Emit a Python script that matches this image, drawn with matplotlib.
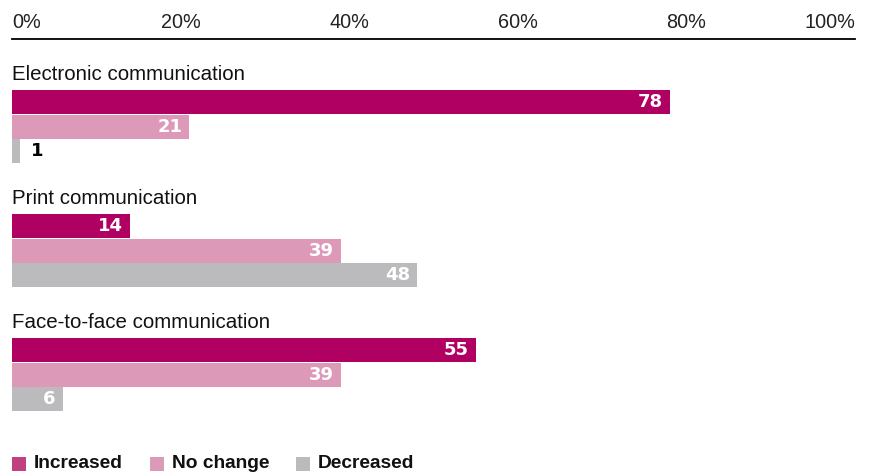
import matplotlib
matplotlib.use("Agg")
import matplotlib.pyplot as plt
from matplotlib.patches import Rectangle

# data
groups = ["Electronic communication", "Print communication", "Face-to-face communication"]
series = ["Increased", "No change", "Decreased"]
increased = [78, 14, 55]
no_change = [21, 39, 39]
decreased = [1, 48, 6]
ticks = [0, 20, 40, 60, 80, 100]
tick_labels = ["0%", "20%", "40%", "60%", "80%", "100%"]

colors = ["#B00062", "#DC9AB8", "#BBBBBE"]
legend_colors = ["#C04080", "#DC9AB8", "#BBBBBE"]

plt.rcParams["font.family"] = ["Liberation Sans", "DejaVu Sans"]

W, H = 869, 472
fig = plt.figure(figsize=(W / 100, H / 100), dpi=100)
top_px = 39
ax = fig.add_axes([12 / W, 0, 843 / W, (H - top_px) / H])
ax.set_xlim(0, 100)
ax.set_ylim(H - top_px, 0)  # y in pixels below the axis line

for s in ["right", "bottom", "left"]:
    ax.spines[s].set_visible(False)
ax.spines["top"].set_linewidth(1.3)
ax.xaxis.tick_top()
ax.set_xticks(ticks)
ax.set_xticklabels(tick_labels, fontsize=14.3, color="#222222")
ax.tick_params(axis="x", length=0, pad=5)
for lbl, t in zip(ax.get_xticklabels(), ticks):
    if t == 0:
        lbl.set_horizontalalignment("left")
    elif t == 100:
        lbl.set_horizontalalignment("right")
ax.set_yticks([])

group_step = 124
first_bar = 51
bar_h = 24
bar_step = 24.5

all_vals = [increased, no_change, decreased]
for i, g in enumerate(groups):
    base = first_bar + i * group_step
    ax.text(0, base - 15, g, fontsize=14.8, va="center", ha="left", color="#111111")
    for j, vals in enumerate(all_vals):
        v = vals[i]
        y = base + j * bar_step
        ax.barh(y, v, height=bar_h, align="edge", color=colors[j], linewidth=0)
        yc = y + bar_h / 2
        if v >= 5:
            ax.text(v - 0.8, yc, str(v), ha="right", va="center", fontsize=13,
                    fontweight="bold", color="white", family="DejaVu Sans")
        else:
            ax.text(v + 1.2, yc, str(v), ha="left", va="center", fontsize=13,
                    fontweight="bold", color="black", family="DejaVu Sans")

# legend at the bottom
leg_y = 464
leg_x = [12, 150, 296]
for x, name, c in zip(leg_x, series, legend_colors):
    fig.patches.append(Rectangle((x / W, (H - leg_y - 7) / H), 14 / W, 14 / H,
                                 transform=fig.transFigure, color=c, linewidth=0))
    fig.text((x + 22) / W, (H - leg_y) / H, name, fontsize=13.8, fontweight="bold",
             va="center", ha="left", color="#111111")

fig.savefig("out.png", dpi=100)
